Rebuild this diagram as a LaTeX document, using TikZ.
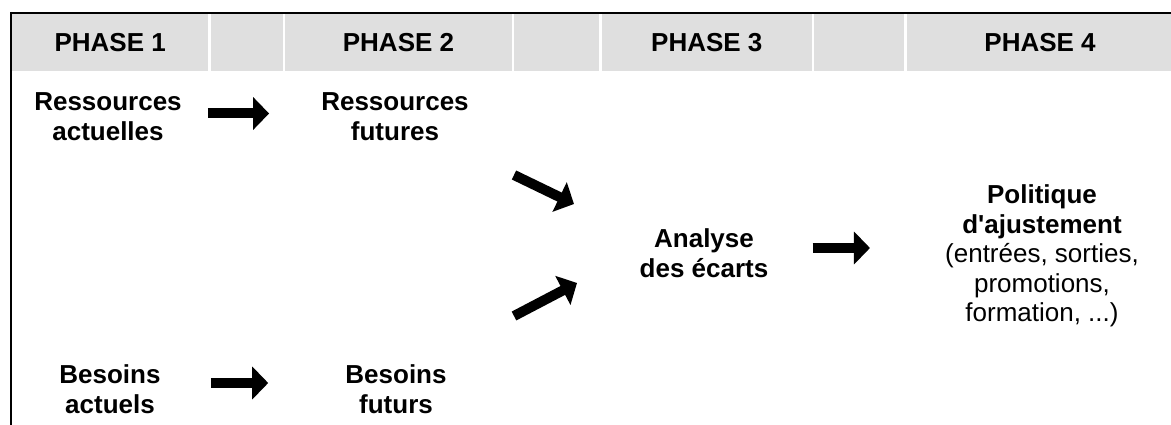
\documentclass[tikz,border=0pt]{standalone}
\usepackage{fontspec}
\setmainfont{Liberation Sans}[Ligatures=TeXOff]
\usetikzlibrary{arrows.meta,positioning}
\definecolor{headgray}{RGB}{223,223,223}

\begin{document}
\begin{tikzpicture}[x=1pt,y=-1pt]
\tikzstyle{every node}=[inner sep=0pt,align=center,font=\fontsize{26}{29.5}\selectfont]
\tikzstyle{cell}=[fill=headgray,minimum height=57pt,font=\fontsize{26}{29.5}\selectfont\bfseries]
\tikzstyle{item}=[font=\fontsize{26}{29.5}\selectfont\bfseries]
\tikzstyle{fat}=[line width=10pt,-{Triangle[length=16pt,width=32pt]}]
\useasboundingbox (0,0) rectangle (1171,425);
% header row
\node[cell,anchor=north west,minimum width=196pt] (h1) at (12,14) {PHASE 1};
\node[cell,minimum width=72pt,right=2pt of h1] (h2) {};
\node[cell,minimum width=227pt,right=2pt of h2] (h3) {PHASE 2};
\node[cell,minimum width=85pt,right=2pt of h3] (h4) {};
\node[cell,minimum width=210pt,right=2pt of h4] (h5) {PHASE 3};
\node[cell,minimum width=90pt,right=2pt of h5] (h6) {};
\node[cell,minimum width=267pt,right=2pt of h6] (h7) {PHASE 4};
\draw[line width=2pt] (10,13) -- (1171,13);
\draw[line width=2pt] (11,12) -- (11,425);
% contents
\node[item] (ra) at (108,116.5) {Ressources\\actuelles};
\node[item] (rf) at (395,116.5) {Ressources\\futures};
\node[item] (ba) at (110,389) {Besoins\\actuels};
\node[item] (bf) at (396,389) {Besoins\\futurs};
\node[item] (an) at (704,253) {Analyse\\des écarts};
\node (po) at (1042,256) {\textbf{Politique}\\\textbf{d'ajustement}\\(entrées, sorties,\\promotions,\\formation, ...)};
% arrows
\draw[fat,shorten <=26pt,shorten >=52pt] ([yshift=3pt]ra.east) -- ([yshift=3pt]rf.west);
\draw[fat,shorten <=50pt,shorten >=77pt] ([yshift=6pt]ba.east) -- ([yshift=6pt]bf.west);
\draw[fat] ([shift={(119,58.5)}]rf.center) -- ([shift={(-130,-49)}]an.center);
\draw[fat] ([shift={(118,-73)}]bf.center) -- ([shift={(-127,30)}]an.center);
\draw[fat,shorten <=44pt,shorten >=75pt] ([yshift=5pt]an.east) -- ([yshift=5pt]an.east -| po.west);
\end{tikzpicture}
\end{document}
